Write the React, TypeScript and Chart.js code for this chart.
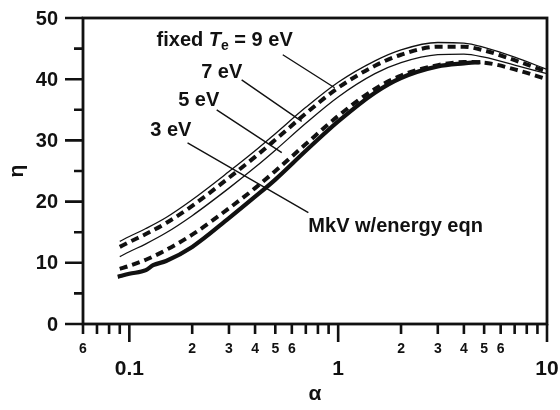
import React, { useEffect, useRef } from 'react';
import { Chart, registerables } from 'chart.js';
Chart.register(...registerables);

// ---- data ----
const alphaFixed = [0.09, 0.1, 0.12, 0.15, 0.2, 0.3, 0.4, 0.5, 0.7, 1, 1.5, 2, 3, 4, 5, 7, 10];
const eta9eV = [13.5, 14.3, 15.6, 17.4, 20.3, 24.9, 28.3, 31.1, 35.4, 39.5, 43.0, 44.8, 46.0, 45.9, 45.2, 43.6, 41.6];
const eta7eV = [12.6, 13.4, 14.7, 16.5, 19.3, 23.9, 27.3, 30.1, 34.4, 38.6, 42.2, 44.0, 45.3, 45.3, 44.7, 43.1, 41.2];
const eta5eV = [11.0, 11.8, 13.1, 14.9, 17.7, 22.2, 25.6, 28.4, 32.8, 37.1, 40.9, 42.7, 44.0, 44.1, 43.6, 42.3, 40.9];
const eta3eV = [9.0, 9.5, 10.5, 12.1, 14.6, 18.9, 22.2, 25.0, 29.4, 34.0, 38.4, 40.6, 42.3, 42.8, 42.7, 41.6, 40.0];
const alphaMkV = [0.088, 0.1, 0.12, 0.13, 0.15, 0.2, 0.3, 0.4, 0.5, 0.7, 1, 1.5, 2, 3, 4, 4.8];
const etaMkV = [7.7, 8.2, 8.8, 9.6, 10.3, 12.6, 17.3, 20.8, 23.6, 28.3, 33.1, 37.8, 40.2, 42.1, 42.6, 42.8];

const yMajorTicks = [0, 10, 20, 30, 40, 50];
const yMinorTicks = [5, 15, 25, 35, 45];
const xMajorTicks = [0.1, 1, 10];
const xMajorLabels = ['0.1', '1', '10'];
const xMinorTicks = [0.06, 0.07, 0.08, 0.09, 0.2, 0.3, 0.4, 0.5, 0.6, 0.7, 0.8, 0.9, 2, 3, 4, 5, 6, 7, 8, 9];
const xMinorLabels = ['6', '', '', '', '2', '3', '4', '5', '6', '', '', '', '2', '3', '4', '5', '6', '', '', ''];

// annotation texts (data coordinates) and pointer lines
const noteTexts = ['7 eV', '5 eV', '3 eV'];
const noteAlpha = [0.277, 0.215, 0.158];
const noteEta = [41.1, 36.5, 31.6];
const pointerFrom = [[0.543, 44.0], [0.345, 39.9], [0.262, 35.0], [0.19, 29.6]];
const pointerTo = [[0.962, 38.6], [0.669, 33.1], [0.537, 28.0], [0.72, 18.2]];
const titleAlpha = 0.286;
const titleEta = 46.3;
const mkvLabel = 'MkV w/energy eqn';
const mkvLabelAlpha = 0.72;
const mkvLabelEta = 16.0;

const FONT = "'Liberation Sans', Arial, Helvetica, sans-serif";

const toPts = (xs: number[], ys: number[]) => xs.map((x, i) => ({ x, y: ys[i] }));

const decorPlugin = {
  id: 'decor',
  afterDraw(chart: any) {
    const ctx = chart.ctx as CanvasRenderingContext2D;
    const { left, right, top, bottom } = chart.chartArea;
    const xs = chart.scales.x;
    const ys = chart.scales.y;
    ctx.save();
    ctx.strokeStyle = '#111';
    ctx.fillStyle = '#111';
    // frame
    ctx.lineWidth = 2.8;
    ctx.strokeRect(left, top, right - left, bottom - top);
    // y ticks
    ctx.lineWidth = 2.6;
    ctx.beginPath();
    yMajorTicks.forEach((v) => {
      const p = ys.getPixelForValue(v);
      ctx.moveTo(left - 18, p);
      ctx.lineTo(left, p);
    });
    yMinorTicks.forEach((v) => {
      const p = ys.getPixelForValue(v);
      ctx.moveTo(left - 9, p);
      ctx.lineTo(left, p);
    });
    // x ticks
    xMajorTicks.forEach((v) => {
      const p = xs.getPixelForValue(v);
      ctx.moveTo(p, bottom);
      ctx.lineTo(p, bottom + 18);
    });
    xMinorTicks.forEach((v) => {
      const p = xs.getPixelForValue(v);
      ctx.moveTo(p, bottom);
      ctx.lineTo(p, bottom + 10);
    });
    ctx.stroke();
    // y labels
    ctx.font = `bold 20px ${FONT}`;
    ctx.textAlign = 'right';
    ctx.textBaseline = 'middle';
    yMajorTicks.forEach((v) => {
      ctx.fillText(String(v), left - 25, ys.getPixelForValue(v) + 1);
    });
    // x minor labels
    ctx.font = `bold 14px ${FONT}`;
    ctx.textAlign = 'center';
    xMinorTicks.forEach((v, i) => {
      if (xMinorLabels[i]) ctx.fillText(xMinorLabels[i], xs.getPixelForValue(v), bottom + 25);
    });
    // x major labels
    ctx.font = `bold 21px ${FONT}`;
    xMajorTicks.forEach((v, i) => {
      ctx.fillText(xMajorLabels[i], xs.getPixelForValue(v), bottom + 45);
    });
    // axis titles
    ctx.font = `bold 21px ${FONT}`;
    ctx.fillText('\u03b1', (left + right) / 2, bottom + 70);
    ctx.save();
    ctx.translate(17, (top + bottom) / 2);
    ctx.rotate(-Math.PI / 2);
    ctx.fillText('\u03b7', 0, 0);
    ctx.restore();

    // pointer lines
    ctx.lineWidth = 1.4;
    ctx.beginPath();
    pointerFrom.forEach((f, i) => {
      const t = pointerTo[i];
      ctx.moveTo(xs.getPixelForValue(f[0]), ys.getPixelForValue(f[1]));
      ctx.lineTo(xs.getPixelForValue(t[0]), ys.getPixelForValue(t[1]));
    });
    ctx.stroke();

    // annotation texts
    ctx.font = `bold 20px ${FONT}`;
    ctx.textAlign = 'center';
    ctx.textBaseline = 'middle';
    noteTexts.forEach((t, i) => {
      ctx.fillText(t, xs.getPixelForValue(noteAlpha[i]), ys.getPixelForValue(noteEta[i]));
    });
    ctx.textAlign = 'left';
    ctx.fillText(mkvLabel, xs.getPixelForValue(mkvLabelAlpha), ys.getPixelForValue(mkvLabelEta));

    // title "fixed T_e = 9 eV"
    const parts = [
      { t: 'fixed ', f: `bold 20px ${FONT}`, dy: 0 },
      { t: 'T', f: `italic bold 20px ${FONT}`, dy: 0 },
      { t: 'e', f: `bold 14px ${FONT}`, dy: 5 },
      { t: ' = 9 eV', f: `bold 20px ${FONT}`, dy: 0 },
    ];
    let total = 0;
    parts.forEach((p) => {
      ctx.font = p.f;
      total += ctx.measureText(p.t).width;
    });
    let cx = xs.getPixelForValue(titleAlpha) - total / 2;
    const cy = ys.getPixelForValue(titleEta);
    parts.forEach((p) => {
      ctx.font = p.f;
      ctx.fillText(p.t, cx, cy + p.dy);
      cx += ctx.measureText(p.t).width;
    });
    ctx.restore();
  },
};

export default function App() {
  const ref = useRef<HTMLCanvasElement | null>(null);
  useEffect(() => {
    if (!ref.current) return;
    const thin = { borderColor: '#111', borderWidth: 1.3, pointRadius: 0, fill: false, cubicInterpolationMode: 'monotone' as const };
    const thickDash = { borderColor: '#111', borderWidth: 4, borderDash: [8, 5], pointRadius: 0, fill: false, cubicInterpolationMode: 'monotone' as const };
    const chart = new Chart(ref.current, {
      type: 'line',
      data: {
        datasets: [
          { label: 'fixed Te = 9 eV', data: toPts(alphaFixed, eta9eV), ...thin },
          { label: '7 eV', data: toPts(alphaFixed, eta7eV), ...thickDash },
          { label: '5 eV', data: toPts(alphaFixed, eta5eV), ...thin },
          { label: '3 eV', data: toPts(alphaFixed, eta3eV), ...thickDash },
          {
            label: 'MkV w/energy eqn',
            data: toPts(alphaMkV, etaMkV),
            borderColor: '#111',
            borderWidth: 4.2,
            pointRadius: 0,
            fill: false,
            cubicInterpolationMode: 'monotone',
          },
        ],
      },
      options: {
        responsive: false,
        animation: false,
        devicePixelRatio: 1,
        layout: { padding: { left: 83, right: 13, top: 18, bottom: 86 } },
        plugins: { legend: { display: false }, tooltip: { enabled: false } },
        scales: {
          x: { type: 'logarithmic', min: 0.06, max: 10, display: false },
          y: { type: 'linear', min: 0, max: 50, display: false },
        },
      },
      plugins: [decorPlugin],
    });
    return () => chart.destroy();
  }, []);
  return (
    <div style={{ position: 'absolute', left: 0, top: 0, width: 560, height: 410, background: '#fff' }}>
      <canvas ref={ref} width={560} height={410} />
    </div>
  );
}
